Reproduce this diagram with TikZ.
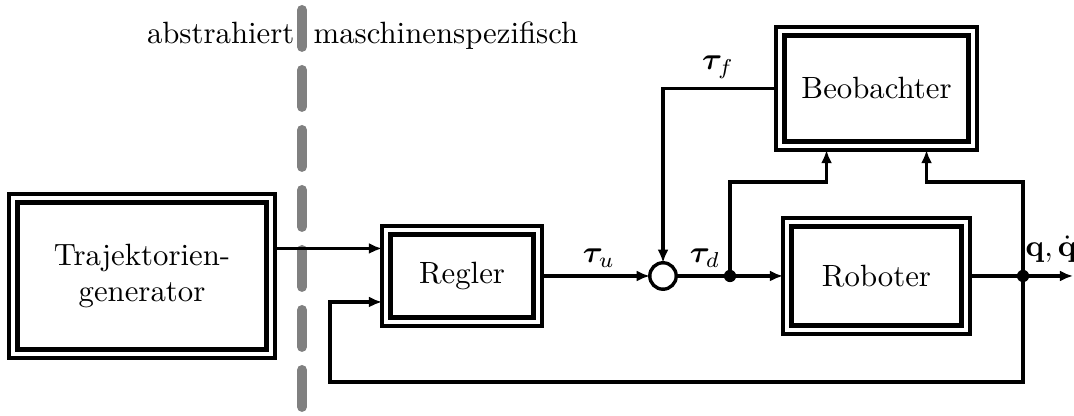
\documentclass[tikz,border=0pt]{standalone}
\usepackage{bm}
\usetikzlibrary{arrows.meta}
\def\pxu{0.325pt}
\tikzset{
  outerbox/.style={draw, line width=1pt, rectangle, inner sep=0pt, outer sep=0pt, align=center},
  innerbox/.style={line width=1.6pt},
  conn/.style={line width=1.1pt},
  arr/.style={line width=1.1pt, -{Latex[length=4.3pt,width=3.6pt]}},
  sep/.style={line width=3.25pt, draw=black!50, line cap=round, dash pattern=on 12pt off 7.5pt},
  lbl/.style={inner sep=0pt, anchor=base},
  sumc/.style={draw, circle, line width=1.1pt, minimum size=8.6pt, inner sep=0pt, outer sep=0pt, fill=white},
  jdot/.style={fill, circle, minimum size=4pt, inner sep=0pt}
}
\begin{document}
\begin{tikzpicture}[x=0.325pt,y=-0.325pt]
\useasboundingbox (0,0) rectangle (1074,416);
% separator
\draw[sep] (302,10) -- (302,408);
\node[lbl, anchor=base east] (abs) at (295,44) {abstrahiert};
\node[lbl, anchor=base west] (mas) at (313,44) {maschinenspezifisch};
% boxes
\node[outerbox, minimum width={266*\pxu}, minimum height={164*\pxu}] (traj) at (142,276) {Trajektorien-\\generator};
\node[outerbox, minimum width={160*\pxu}, minimum height={100*\pxu}] (reg) at (462,276) {Regler};
\node[outerbox, minimum width={187*\pxu}, minimum height={116*\pxu}] (rob) at (876.5,276) {Roboter};
\node[outerbox, minimum width={201*\pxu}, minimum height={123*\pxu}] (beo) at (876.5,88.5) {Beobachter};
\foreach \n in {traj,reg,rob,beo}{
  \draw[innerbox] ([shift={(8.5,8.5)}]\n.north west) rectangle ([shift={(-8.5,-8.5)}]\n.south east);
}
% sum and junctions
\node[sumc] (sum) at (663,276) {};
\node[jdot] (j1) at (730,276) {};
\node[jdot] (j2) at (1023,276) {};
\coordinate (out) at (1073,276);
\coordinate (fbl) at (330,382);
\coordinate (ob1) at ([xshift={-50*\pxu}]beo.south);
\coordinate (ob2) at ([xshift={50*\pxu}]beo.south);
% connectors
\draw[arr] ([yshift={27.5*\pxu}]traj.east) -- ([yshift={27.5*\pxu}]reg.west);
\draw[arr] (j2.center) |- (fbl) |- ([yshift={-26*\pxu}]reg.west);
\draw[arr] (reg.east) -- (sum.west);
\draw[conn] (sum.east) -- (j1.center);
\draw[arr] (j1.center) -- (rob.west);
\draw[conn] (rob.east) -- (j2.center);
\draw[arr] (j2.center) -- (out);
\draw[arr] (j1.center) -- ++(0,-94) -| (ob1);
\draw[arr] (j2.center) -- ++(0,-94) -| (ob2);
\draw[arr] (beo.west) -| (sum.north);
% labels
\node[lbl] (tu) at (599,263) {$\bm{\tau}_u$};
\node[lbl] (td) at (705,263) {$\bm{\tau}_d$};
\node[lbl] (tf) at (718,70) {$\bm{\tau}_f$};
\node[lbl, anchor=base west] (qq) at (1025,257) {$\mathbf{q},\dot{\mathbf{q}}$};
\end{tikzpicture}
\end{document}
